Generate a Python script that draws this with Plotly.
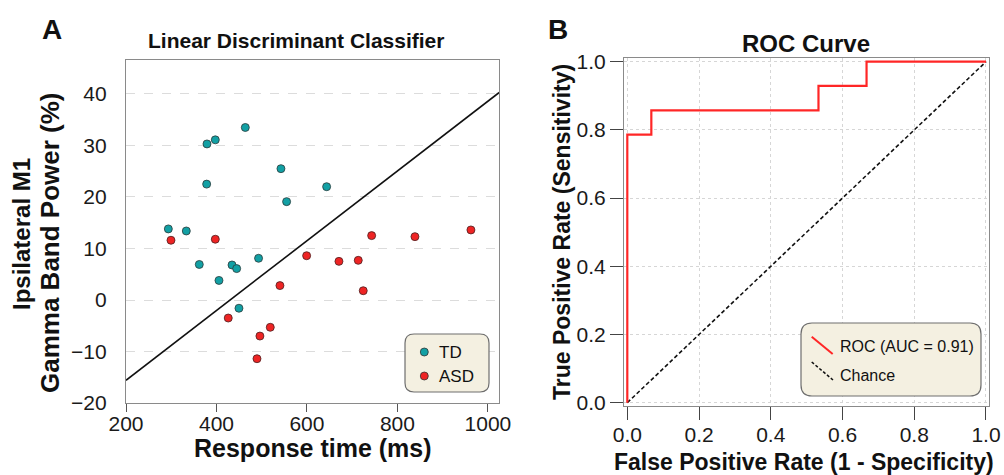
import plotly.graph_objects as go

W, H = 1004, 475

# ---------------- data ----------------
td_rt = [293.6, 333.3, 463.7, 379.0, 397.4, 378.3, 542.5, 555.0, 643.5, 493.0, 362.0, 434.3, 444.6, 405.5, 449.7]
td_gamma = [13.8, 13.4, 33.5, 30.3, 31.1, 22.5, 25.5, 19.1, 22.0, 8.1, 6.9, 6.8, 6.1, 3.8, -1.6]
asd_rt = [299.4, 397.4, 743.0, 838.7, 962.4, 599.3, 670.7, 713.4, 540.3, 724.4, 426.0, 518.9, 496.0, 489.5]
asd_gamma = [11.6, 11.8, 12.5, 12.3, 13.6, 8.6, 7.5, 7.7, 2.8, 1.8, -3.5, -5.3, -7.0, -11.4]
boundary_rt = [200, 1025]
boundary_gamma = [-15.6, 40.3]

roc_fpr = [0.0, 0.0, 0.067, 0.533, 0.667, 1.0]
roc_tpr = [0.0, 0.786, 0.857, 0.929, 1.0, 1.0]
chance_x = [0.0, 1.0]
chance_y = [0.0, 1.0]
auc = 0.91

xticks_a = [200, 400, 600, 800, 1000]
yticks_a = [-20, -10, 0, 10, 20, 30, 40]
ticks_b = [0.0, 0.2, 0.4, 0.6, 0.8, 1.0]

# ---------------- styles ----------------
FONT = "Liberation Sans, Arial, Helvetica, sans-serif"
TD_COLOR = "#12a0a4"
ASD_COLOR = "#ee2424"
ROC_COLOR = "#ff2626"
BOX = "#8a8a8a"


def fx(px):
    return px / W


def fy(py):
    return 1 - py / H


def rounded_path(x0, y0, x1, y1, r):
    pts = [
        ("M", [(x0 + r, y0)]),
        ("L", [(x1 - r, y0)]),
        ("Q", [(x1, y0), (x1, y0 + r)]),
        ("L", [(x1, y1 - r)]),
        ("Q", [(x1, y1), (x1 - r, y1)]),
        ("L", [(x0 + r, y1)]),
        ("Q", [(x0, y1), (x0, y1 - r)]),
        ("L", [(x0, y0 + r)]),
        ("Q", [(x0, y0), (x0 + r, y0)]),
    ]
    s = ""
    for cmd, ps in pts:
        s += cmd + " " + " ".join(f"{fx(a):.5f},{fy(b):.5f}" for a, b in ps) + " "
    return s + "Z"


fig = go.Figure()

# Panel A
fig.add_trace(go.Scatter(x=boundary_rt, y=boundary_gamma, mode="lines",
                         line=dict(color="#111111", width=1.6),
                         xaxis="x", yaxis="y", showlegend=False, hoverinfo="skip"))
fig.add_trace(go.Scatter(x=td_rt, y=td_gamma, mode="markers", name="TD",
                         marker=dict(color=TD_COLOR, size=8, line=dict(color="#2b3a3a", width=0.8)),
                         xaxis="x", yaxis="y", showlegend=False))
fig.add_trace(go.Scatter(x=asd_rt, y=asd_gamma, mode="markers", name="ASD",
                         marker=dict(color=ASD_COLOR, size=8, line=dict(color="#4a2020", width=0.8)),
                         xaxis="x", yaxis="y", showlegend=False))

# Panel B
fig.add_trace(go.Scatter(x=chance_x, y=chance_y, mode="lines", name="Chance",
                         line=dict(color="#111111", width=1.6, dash="4px,2.5px"),
                         xaxis="x2", yaxis="y2", showlegend=False))
fig.add_trace(go.Scatter(x=roc_fpr, y=roc_tpr, mode="lines", name=f"ROC (AUC = {auc:.2f})",
                         line=dict(color=ROC_COLOR, width=2.2, shape="hv"),
                         xaxis="x2", yaxis="y2", showlegend=False))

tickfont = dict(family=FONT, size=21, color="#1a1a1a")

fig.update_layout(
    template="none",
    width=W, height=H,
    margin=dict(l=0, r=0, t=0, b=0, autoexpand=False),
    paper_bgcolor="white", plot_bgcolor="white",
    xaxis=dict(domain=[fx(126), fx(499)], anchor="y", range=[200, 1024.5], automargin=False,
               tickvals=xticks_a, ticks="outside", ticklen=8, tickcolor="#555555", tickwidth=1,
               ticklabelstandoff=-6,
               showline=True, mirror=True, linecolor=BOX, linewidth=1.2,
               showgrid=False, zeroline=False, tickfont=tickfont),
    yaxis=dict(domain=[fy(403), fy(60)], anchor="x", range=[-20, 46.6], automargin=False,
               tickvals=yticks_a, ticks="outside", ticklen=14, tickcolor="rgba(0,0,0,0)",
               showline=True, mirror=True, linecolor=BOX, linewidth=1.2,
               showgrid=True, gridcolor="#dcdcdc", griddash="dash", gridwidth=1,
               zeroline=False, tickfont=tickfont),
    xaxis2=dict(domain=[fx(624), fx(988.5)], anchor="y2", range=[-0.0092, 1.007], automargin=False,
                tickvals=ticks_b, tickformat=".1f", ticks="outside", ticklen=13, tickcolor="#444444", tickwidth=1,
                ticklabelstandoff=-3,
                showline=True, mirror=True, linecolor=BOX, linewidth=1.2,
                showgrid=True, gridcolor="#d6d6d6", griddash="dot", gridwidth=1,
                zeroline=False, tickfont=tickfont),
    yaxis2=dict(domain=[fy(405.7), fy(58.3)], anchor="x2", range=[-0.0088, 1.010], automargin=False,
                tickvals=ticks_b, tickformat=".1f", ticks="outside", ticklen=13, tickcolor="#444444", tickwidth=1,
                showline=True, mirror=True, linecolor=BOX, linewidth=1.2,
                showgrid=True, gridcolor="#d6d6d6", griddash="dot", gridwidth=1,
                zeroline=False, tickfont=tickfont),
)

# ---------------- custom legends ----------------
shapes = []
shapes.append(dict(type="path", xref="paper", yref="paper",
                   path=rounded_path(405, 334, 489, 392, 9),
                   fillcolor="#f4f0e1", line=dict(color="#6e6e6e", width=1.2), layer="above"))
for cy, col in [(352, TD_COLOR), (376, ASD_COLOR)]:
    shapes.append(dict(type="circle", xref="paper", yref="paper",
                       x0=fx(424.3 - 4), x1=fx(424.3 + 4), y0=fy(cy + 4), y1=fy(cy - 4),
                       fillcolor=col, line=dict(color="#333333", width=0.8), layer="above"))
shapes.append(dict(type="path", xref="paper", yref="paper",
                   path=rounded_path(801, 323, 981, 396, 11),
                   fillcolor="#f4f0e1", line=dict(color="#6e6e6e", width=1.2), layer="above"))
shapes.append(dict(type="line", xref="paper", yref="paper",
                   x0=fx(811.7), y0=fy(336.7), x1=fx(832.7), y1=fy(354),
                   line=dict(color=ROC_COLOR, width=2), layer="above"))
shapes.append(dict(type="line", xref="paper", yref="paper",
                   x0=fx(811.7), y0=fy(362), x1=fx(833), y1=fy(380),
                   line=dict(color="#111111", width=1.5, dash="3px,2px"), layer="above"))
fig.update_layout(shapes=shapes)


def ann(text, px, py, size, bold=False, xanchor="center", angle=0):
    return dict(text=f"<b>{text}</b>" if bold else text, x=fx(px), y=fy(py),
                xref="paper", yref="paper", xanchor=xanchor, yanchor="middle",
                showarrow=False, textangle=angle,
                font=dict(family=FONT, size=size, color="#111111"))


annotations = [
    ann("A", 52, 30, 28, bold=True),
    ann("B", 558, 30, 28, bold=True),
    ann("Linear Discriminant Classifier", 296, 40, 21, bold=True),
    ann("ROC Curve", 806, 44, 24, bold=True),
    ann("Response time (ms)", 313, 448, 25, bold=True),
    ann("False Positive Rate (1 - Specificity)", 804, 462, 23, bold=True),
    ann("Ipsilateral M1", 21, 234, 24, bold=True, angle=-90),
    ann("Gamma Band Power (%)", 50, 243, 26, bold=True, angle=-90),
    ann("True Positive Rate (Sensitivity)", 562, 232, 23, bold=True, angle=-90),
    ann("TD", 437, 352, 17, xanchor="left"),
    ann("ASD", 437, 376, 17, xanchor="left"),
    ann(f"ROC (AUC = {auc:.2f})", 838, 346, 16, xanchor="left"),
    ann("Chance", 838, 375, 16, xanchor="left"),
]
fig.update_layout(annotations=annotations)

fig.write_html("out.html")
